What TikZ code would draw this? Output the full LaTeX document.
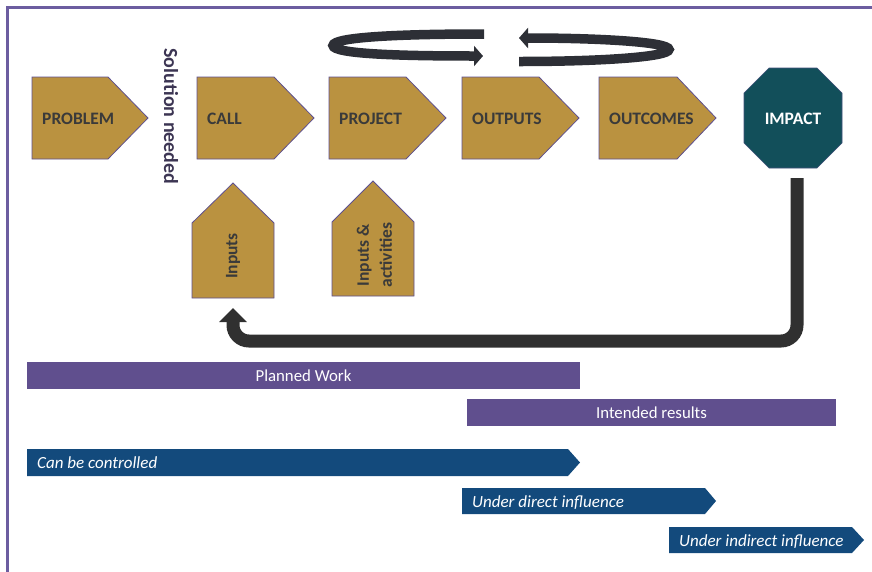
\documentclass[tikz,border=0pt]{standalone}
\usepackage{fontspec}
\setmainfont{Carlito}
\usetikzlibrary{arrows.meta}

\definecolor{framecol}{HTML}{6C5DA0}
\definecolor{goldfill}{HTML}{BA9240}
\definecolor{goldedge}{HTML}{5E5090}
\definecolor{labelgray}{HTML}{3A3A3A}
\definecolor{tealfill}{HTML}{124F5A}
\definecolor{barpurple}{HTML}{604F8E}
\definecolor{barblue}{HTML}{134A7C}
\definecolor{loopgray}{HTML}{303030}
\definecolor{ribbon}{HTML}{2D2F36}
\definecolor{notecol}{HTML}{3C3553}

\begin{document}
\begin{tikzpicture}[x=1pt,y=-1pt,
  frameline/.style={draw=framecol,line width=3pt},
  stage/.style={fill=goldfill,draw=goldedge,line width=0.8pt,line join=miter},
  stagetext/.style={inner sep=0pt,text=labelgray,font=\fontsize{17.5}{23}\selectfont\bfseries},
  impactshape/.style={fill=tealfill,draw=goldedge!60!tealfill,line width=0.6pt},
  impacttext/.style={inner sep=0pt,text=white,font=\fontsize{17.5}{20}\selectfont\bfseries},
  notetext/.style={inner sep=0pt,text=notecol,font=\fontsize{20}{22}\selectfont\bfseries},
  purplebar/.style={fill=barpurple,draw=none},
  bluebar/.style={fill=barblue,draw=none},
  bartext/.style={inner sep=0pt,text=white,font=\fontsize{16.8}{19}\selectfont},
  bartextit/.style={bartext,font=\fontsize{17}{19}\selectfont\itshape},
  feedback/.style={draw=loopgray,line width=13pt,rounded corners=16pt,
    -{Triangle[width=27pt,length=14pt]}},
  cycleloop/.style={draw=ribbon,line width=9.5pt,
    -{Triangle[width=20pt,length=9pt]}}
]
\useasboundingbox (0,0) rectangle (872,571);

% outer frame, running off the right and bottom edges
\begin{scope}
  \clip (0,0) rectangle (872,571);
  \draw[frameline] (7.5,7.5) rectangle (900,600);
\end{scope}

% stage arrows
\draw[stage] (32,77) -- (108,77) -- (148,118) -- (108,159) -- (32,159) -- cycle;
\draw[stage] (197,77) -- (274,77) -- (314,118) -- (274,159) -- (197,159) -- cycle;
\draw[stage] (329,77) -- (406,77) -- (446,118) -- (406,159) -- (329,159) -- cycle;
\draw[stage] (462,77) -- (539,77) -- (579,118) -- (539,159) -- (462,159) -- cycle;
\draw[stage] (599,77) -- (677,77) -- (716,118) -- (677,159) -- (599,159) -- cycle;

\node[stagetext,anchor=base west] (problem)  at (42,124.5)  {PROBLEM};
\node[stagetext,anchor=base west] (call)     at (207,124.5) {CALL};
\node[stagetext,anchor=base west] (project)  at (339,124.5) {PROJECT};
\node[stagetext,anchor=base west] (outputs)  at (472,124.5) {OUTPUTS};
\node[stagetext,anchor=base west] (outcomes) at (609,124.5) {OUTCOMES};

% impact octagon
\draw[impactshape] (769,68) -- (817,68) -- (842,93) -- (842,143) -- (817,168)
  -- (769,168) -- (744,143) -- (744,93) -- cycle;
\node[impacttext] (impact) at (793,118.5) {IMPACT};

% vertical note between problem and call
\node[notetext,rotate=-90] (solution) at (171,116.5) {Solution needed};

% upward input boxes
\draw[stage] (192,298) -- (192,223) -- (233,183) -- (274,223) -- (274,298) -- cycle;
\draw[stage] (332,296) -- (332,222) -- (373,181) -- (414,222) -- (414,296) -- cycle;
\node[stagetext,rotate=90] (inputs) at (233,256) {Inputs};
\node[stagetext,rotate=90,align=center] (activities) at (374.5,255)
  {Inputs \&\\activities};

% feedback from impact back to the inputs
\coordinate (fbstart) at (797,178);
\coordinate (fbend)   at (233,308);
\draw[feedback] (fbstart) -- (fbstart |- 0,341) -- (fbend |- 0,341) -- (fbend);

% iteration loops above the stages
\coordinate (loopAin)  at (484,34);
\coordinate (loopAout) at (483,56);
\coordinate (loopBin)  at (519,61.5);
\coordinate (loopBout) at (519,38);
\draw[cycleloop] (loopAin) .. controls (400,34) and (333,37) .. (333,45.5)
  .. controls (333,54) and (400,56) .. (loopAout);
\draw[cycleloop] (loopBin) .. controls (600,61.5) and (669,57) .. (669,49.5)
  .. controls (669,42) and (600,38) .. (loopBout);

% scope bars
\fill[purplebar] (27,362) rectangle (580,389);
\node[bartext] (planned) at (303.5,375.5) {Planned Work};
\fill[purplebar] (467,399) rectangle (836,426);
\node[bartext] (intended) at (651.5,412.5) {Intended results};

\fill[bluebar] (27,449) -- (568,449) -- (580,462.5) -- (568,476) -- (27,476) -- cycle;
\node[bartextit,anchor=base west] (controlled) at (37,468) {Can be controlled};
\fill[bluebar] (462,488) -- (705,488) -- (716,501) -- (705,514) -- (462,514) -- cycle;
\node[bartextit,anchor=base west] (direct) at (472,507) {Under direct influence};
\fill[bluebar] (669,527) -- (852,527) -- (864,540) -- (852,553) -- (669,553) -- cycle;
\node[bartextit,anchor=base west] (indirect) at (679,546) {Under indirect influence};
\end{tikzpicture}
\end{document}
